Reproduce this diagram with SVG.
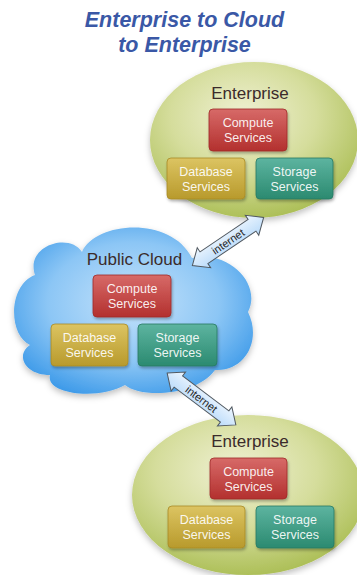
<svg xmlns="http://www.w3.org/2000/svg" width="357" height="575" viewBox="0 0 357 575">
<defs>
  <radialGradient id="gEll" cx="0.45" cy="0.35" r="0.7">
    <stop offset="0" stop-color="#f0f1d4"/>
    <stop offset="0.5" stop-color="#d5dd9c"/>
    <stop offset="1" stop-color="#a7bb4e"/>
  </radialGradient>
  <radialGradient id="gCloud" cx="0.5" cy="0.45" r="0.6">
    <stop offset="0" stop-color="#c6e3fb"/>
    <stop offset="0.6" stop-color="#8cc6f5"/>
    <stop offset="1" stop-color="#3f9be9"/>
  </radialGradient>
  <linearGradient id="gRed" x1="0" y1="0" x2="0" y2="1">
    <stop offset="0" stop-color="#d76a68"/>
    <stop offset="1" stop-color="#b3302e"/>
  </linearGradient>
  <linearGradient id="gYel" x1="0" y1="0" x2="0" y2="1">
    <stop offset="0" stop-color="#dcc462"/>
    <stop offset="1" stop-color="#b89a2c"/>
  </linearGradient>
  <linearGradient id="gTeal" x1="0" y1="0" x2="0" y2="1">
    <stop offset="0" stop-color="#5db4a0"/>
    <stop offset="1" stop-color="#2b8a70"/>
  </linearGradient>
  <linearGradient id="gArrow" x1="0" y1="0" x2="0" y2="1">
    <stop offset="0" stop-color="#eef6fe"/>
    <stop offset="1" stop-color="#b8dafa"/>
  </linearGradient>
  <filter id="sh" x="-20%" y="-20%" width="140%" height="150%">
    <feDropShadow dx="1" dy="2" stdDeviation="1.5" flood-color="#000" flood-opacity="0.3"/>
  </filter>
  <filter id="shBig" x="-10%" y="-10%" width="120%" height="125%">
    <feDropShadow dx="0" dy="3" stdDeviation="3" flood-color="#000" flood-opacity="0.25"/>
  </filter>
  <polygon id="arrow" points="-43,0 -29,-12 -29,-7 29,-7 29,-12 43,0 29,12 29,7 -29,7 -29,12"/>
</defs>
<style>
  .title { font-family: "Liberation Sans", Arial, sans-serif; font-weight: bold; font-style: italic; font-size: 21.5px; fill: #3a58a6; text-anchor: middle; }
  .head { font-family: "Liberation Sans", Arial, sans-serif; font-size: 17px; fill: #3b2b2b; text-anchor: middle; }
  .bt { font-family: "Liberation Sans", Arial, sans-serif; font-size: 12.5px; fill: #ffffff; fill-opacity: 0.92; text-anchor: middle; }
  .box { stroke-width: 0.8; filter: url(#sh); }
  .red { fill: url(#gRed); stroke: #a02a28; }
  .yel { fill: url(#gYel); stroke: #a88a24; }
  .teal { fill: url(#gTeal); stroke: #267a63; }
  .ell { fill: url(#gEll); filter: url(#shBig); }
  .arr { fill: url(#gArrow); stroke: #505860; stroke-width: 1; }
  .lbl { font-family: "Liberation Sans", Arial, sans-serif; font-size: 11px; fill: #1e1e1e; text-anchor: middle; }
</style>

<g id="title">
  <text class="title" x="184.5" y="27">Enterprise to Cloud</text>
  <text class="title" x="184.5" y="52">to Enterprise</text>
</g>

<g id="enterprise-top">
  <ellipse class="ell" cx="254" cy="140" rx="104" ry="78"/>
  <text class="head" x="250" y="99">Enterprise</text>
  <g id="et-compute">
    <rect class="box red" x="209" y="109" width="78" height="42" rx="4"/>
    <text class="bt" x="248" y="127">Compute</text>
    <text class="bt" x="248" y="142">Services</text>
  </g>
  <g id="et-database">
    <rect class="box yel" x="167" y="158" width="78" height="41" rx="4"/>
    <text class="bt" x="206" y="176">Database</text>
    <text class="bt" x="206" y="191">Services</text>
  </g>
  <g id="et-storage">
    <rect class="box teal" x="256" y="158" width="77" height="41" rx="4"/>
    <text class="bt" x="294.5" y="176">Storage</text>
    <text class="bt" x="294.5" y="191">Services</text>
  </g>
</g>

<g id="public-cloud">
  <path fill="url(#gCloud)" filter="url(#shBig)" d="M 30 345 C 8 335, 8 285, 35 275 C 25 245, 70 232, 82 252 C 95 222, 170 215, 192 258 C 230 250, 262 285, 248 312 C 262 340, 245 372, 215 370 C 195 397, 140 398, 125 385 C 100 400, 45 395, 50 375 C 25 375, 15 355, 30 345 Z"/>
  <text class="head" x="134.5" y="265">Public Cloud</text>
  <g id="pc-compute">
    <rect class="box red" x="93" y="275" width="78" height="42" rx="4"/>
    <text class="bt" x="132" y="293">Compute</text>
    <text class="bt" x="132" y="308">Services</text>
  </g>
  <g id="pc-database">
    <rect class="box yel" x="51" y="324" width="77" height="42" rx="4"/>
    <text class="bt" x="89.5" y="342">Database</text>
    <text class="bt" x="89.5" y="357">Services</text>
  </g>
  <g id="pc-storage">
    <rect class="box teal" x="138" y="324" width="79" height="42" rx="4"/>
    <text class="bt" x="177.5" y="342">Storage</text>
    <text class="bt" x="177.5" y="357">Services</text>
  </g>
</g>

<g id="enterprise-bottom">
  <ellipse class="ell" cx="248" cy="495" rx="116" ry="80"/>
  <text class="head" x="250" y="447">Enterprise</text>
  <g id="eb-compute">
    <rect class="box red" x="210" y="458" width="77" height="41" rx="4"/>
    <text class="bt" x="248.5" y="476">Compute</text>
    <text class="bt" x="248.5" y="491">Services</text>
  </g>
  <g id="eb-database">
    <rect class="box yel" x="168" y="506" width="77" height="42" rx="4"/>
    <text class="bt" x="206.5" y="524">Database</text>
    <text class="bt" x="206.5" y="539">Services</text>
  </g>
  <g id="eb-storage">
    <rect class="box teal" x="256" y="506" width="78" height="42" rx="4"/>
    <text class="bt" x="295" y="524">Storage</text>
    <text class="bt" x="295" y="539">Services</text>
  </g>
</g>

<g id="connectors">
  <g transform="translate(228 241.5) rotate(-34)">
    <use href="#arrow" class="arr"/>
    <text class="lbl" x="0" y="4">internet</text>
  </g>
  <g transform="translate(201.5 399) rotate(37)">
    <use href="#arrow" class="arr"/>
    <text class="lbl" x="0" y="4">internet</text>
  </g>
</g>
</svg>
